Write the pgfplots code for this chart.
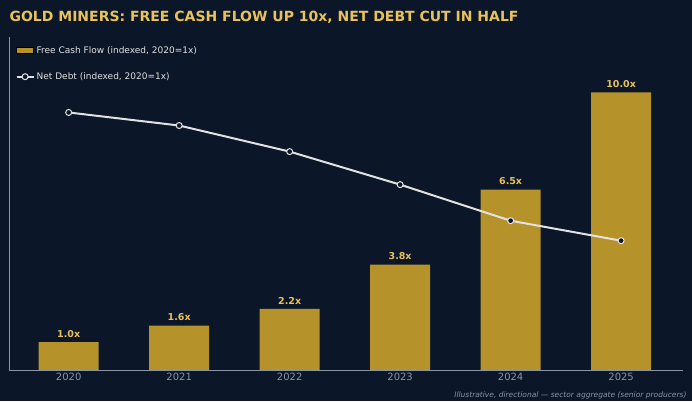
\documentclass[border=0pt]{standalone}
\usepackage{pgfplots}
\pgfplotsset{compat=1.18}
\usepackage{fontspec}
\setmainfont{DejaVu Sans}
\definecolor{bg}{HTML}{0B1628}
\definecolor{gold}{HTML}{B5922A}
\definecolor{goldtxt}{HTML}{E8C25A}
\definecolor{axisc}{HTML}{8A96A8}
\definecolor{linec}{HTML}{E2E2E2}
\begin{document}
\begin{tikzpicture}
\fill[bg] (0,0) rectangle (692pt,401pt);
\useasboundingbox (0,0) rectangle (692pt,401pt);
\node[anchor=west,text=goldtxt,font=\fontsize{14}{16}\selectfont\bfseries] at (6pt,384pt) {GOLD MINERS: FREE CASH FLOW UP 10x, NET DEBT CUT IN HALF};
\node[anchor=east,text=axisc,font=\fontsize{7.5}{9}\selectfont\itshape] at (690pt,6pt) {Illustrative, directional — sector aggregate (senior producers)};
\begin{axis}[
  at={(9pt,31pt)}, anchor=south west,
  scale only axis, width=674pt, height=333pt,
  xmin=-0.54, xmax=5.56, ymin=0, ymax=12,
  axis x line*=bottom, axis y line*=left,
  axis line style={axisc, line width=0.8pt},
  x axis line style={-}, y axis line style={-},
  ytick=\empty,
  xtick={0,...,5}, xticklabels={2020,2021,2022,2023,2024,2025},
  xtick style={axisc}, major tick length=4pt,
  ticklabel style={text=axisc, font=\fontsize{10}{12}\selectfont},
  legend style={at={(0.005,0.985)}, anchor=north west, draw=none, fill=none,
    text=linec, font=\fontsize{9}{11}\selectfont, row sep=14pt},
  legend cell align=left,
]
\addplot[ybar, bar width=60pt, fill=gold, draw=none, area legend,
  point meta=explicit symbolic,
  nodes near coords, nodes near coords style={text=goldtxt, font=\fontsize{9.5}{11}\selectfont\bfseries, yshift=1pt}]
  coordinates {(0,1.0) [1.0x] (1,1.6) [1.6x] (2,2.2) [2.2x] (3,3.8) [3.8x] (4,6.5) [6.5x] (5,10.0) [10.0x]};
\addlegendentry{Free Cash Flow (indexed, 2020=1x)}
\addplot[linec, line width=2pt, mark=*, mark size=3pt, mark options={fill=bg, draw=linec, line width=1pt}]
  coordinates {(0,9.28) (1,8.81) (2,7.87) (3,6.68) (4,5.38) (5,4.66)};
\addlegendentry{Net Debt (indexed, 2020=1x)}
\end{axis}
\end{tikzpicture}
\end{document}
